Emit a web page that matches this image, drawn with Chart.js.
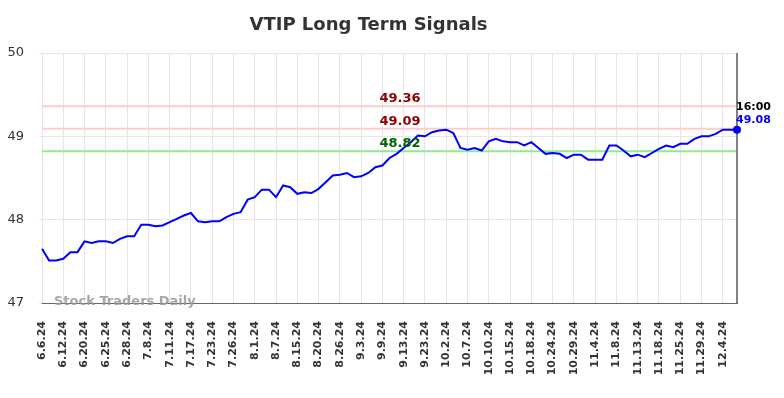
<!DOCTYPE html>
<html>
<head>
<meta charset="utf-8">
<script src="https://cdn.jsdelivr.net/npm/chart.js@4/dist/chart.umd.min.js"></script>
<style>
html,body{margin:0;padding:0;background:#fff;}
#wrap{width:784px;height:398px;position:relative;}
</style>
</head>
<body>
<div id="wrap"><canvas id="c" width="784" height="398"></canvas></div>
<script>
const tickLabels = ["6.6.24","6.12.24","6.20.24","6.25.24","6.28.24","7.8.24","7.11.24","7.17.24","7.23.24","7.26.24","8.1.24","8.7.24","8.15.24","8.20.24","8.26.24","9.3.24","9.9.24","9.13.24","9.23.24","10.2.24","10.7.24","10.10.24","10.15.24","10.18.24","10.24.24","10.29.24","11.4.24","11.8.24","11.13.24","11.18.24","11.25.24","11.29.24","12.4.24"];
const prices = [47.65,47.51,47.51,47.53,47.61,47.61,47.74,47.72,47.74,47.74,
47.72,47.77,47.80,47.80,47.94,47.94,47.92,47.93,47.97,48.01,
48.05,48.08,47.98,47.97,47.98,47.98,48.03,48.07,48.09,48.24,
48.27,48.36,48.36,48.27,48.41,48.39,48.31,48.33,48.32,48.37,
48.45,48.53,48.54,48.56,48.51,48.52,48.56,48.63,48.65,48.74,
48.79,48.86,48.93,49.01,49.00,49.05,49.07,49.08,49.04,48.86,
48.84,48.86,48.83,48.94,48.97,48.94,48.93,48.93,48.89,48.93,
48.86,48.79,48.80,48.79,48.74,48.78,48.78,48.72,48.72,48.72,
48.89,48.89,48.83,48.76,48.78,48.75,48.80,48.85,48.89,48.87,
48.91,48.91,48.97,49.00,49.00,49.03,49.08,49.08,49.08];
const labelEvery = 3;
const yTicks = [47, 48, 49, 50];
const signalLevels = [49.36, 49.09, 48.82];
const signalLabels = ["49.36", "49.09", "48.82"];
const lastTime = "16:00";
const lastPriceLabel = "49.08";

const labels = prices.map((v, i) => (i % labelEvery === 0 ? tickLabels[i / labelEvery] : ""));
const signalColors = ["#ffcccc", "#ffcccc", "#90e890"];
const signalTextColors = ["#8b0000", "#8b0000", "#006400"];

const annot = {
  id: "annot",
  beforeDatasetsDraw(chart) {
    const {ctx, chartArea, scales} = chart;
    ctx.save();
    signalLevels.forEach((v, k) => {
      const y = scales.y.getPixelForValue(v);
      ctx.strokeStyle = signalColors[k];
      ctx.lineWidth = 2;
      ctx.beginPath();
      ctx.moveTo(chartArea.left, y);
      ctx.lineTo(chartArea.right, y);
      ctx.stroke();
    });
    const lx = scales.x.getPixelForValue(prices.length - 1);
    ctx.strokeStyle = "#808080";
    ctx.lineWidth = 2;
    ctx.beginPath();
    ctx.moveTo(lx, chartArea.top);
    ctx.lineTo(lx, chartArea.bottom);
    ctx.stroke();
    ctx.restore();
  },
  afterDatasetsDraw(chart) {
    const {ctx, chartArea, scales} = chart;
    ctx.save();
    ctx.font = "bold 13px 'DejaVu Sans'";
    ctx.textAlign = "center";
    ctx.textBaseline = "bottom";
    signalLevels.forEach((v, k) => {
      const y = scales.y.getPixelForValue(v);
      ctx.fillStyle = signalTextColors[k];
      ctx.fillText(signalLabels[k], 400, y - 1);
    });
    const lx = scales.x.getPixelForValue(prices.length - 1);
    const ly = scales.y.getPixelForValue(prices[prices.length - 1]);
    ctx.font = "bold 11px 'DejaVu Sans'";
    ctx.textAlign = "left";
    ctx.textBaseline = "middle";
    ctx.fillStyle = "#000";
    ctx.fillText(lastTime, lx - 1, ly - 23);
    ctx.fillStyle = "#0000ff";
    ctx.fillText(lastPriceLabel, lx - 1, ly - 10);
    ctx.font = "bold 13px 'DejaVu Sans'";
    ctx.fillStyle = "rgba(150,150,150,0.85)";
    ctx.textAlign = "left";
    ctx.fillText("Stock Traders Daily", 54, chartArea.bottom - 1);
    ctx.restore();
  }
};

new Chart(document.getElementById("c"), {
  type: "line",
  data: {
    labels: labels,
    datasets: [{
      data: prices,
      borderColor: "#0000ff",
      backgroundColor: "#0000ff",
      borderWidth: 2,
      tension: 0,
      pointRadius: (c) => (c.dataIndex === prices.length - 1 ? 3 : 0),
      pointHoverRadius: 0,
      fill: false
    }]
  },
  options: {
    responsive: false,
    animation: false,
    layout: {padding: {left: 0, right: 47, top: 0, bottom: 0}},
    plugins: {
      legend: {display: false},
      tooltip: {enabled: false},
      title: {
        display: true,
        text: "VTIP Long Term Signals",
        color: "#333",
        font: {family: "'DejaVu Sans'", size: 18, weight: "bold"},
        padding: {top: 15, bottom: 16.4}
      }
    },
    scales: {
      x: {
        type: "category",
        offset: false,
        afterFit: (s) => { s.height = 95; },
        grid: {
          color: (c) => (c.index % labelEvery === 0 ? "#e6e6e6" : "rgba(0,0,0,0)"),
          drawTicks: false
        },
        border: {display: true, color: "#666", width: 1},
        ticks: {
          autoSkip: false,
          maxRotation: 90,
          minRotation: 90,
          padding: 18,
          color: "#333",
          font: {family: "'DejaVu Sans'", size: 11, weight: "bold"},
          callback: (v, i) => labels[i]
        }
      },
      y: {
        min: 47,
        max: 50,
        afterFit: (s) => { s.width = 42; },
        afterBuildTicks: (s) => { s.ticks = yTicks.map(v => ({value: v})); },
        grid: {color: "#e6e6e6", tickLength: 3},
        border: {display: false},
        ticks: {
          padding: 15,
          color: "#333",
          font: {family: "'DejaVu Sans'", size: 13}
        }
      }
    }
  },
  plugins: [annot]
});
</script>
</body>
</html>
